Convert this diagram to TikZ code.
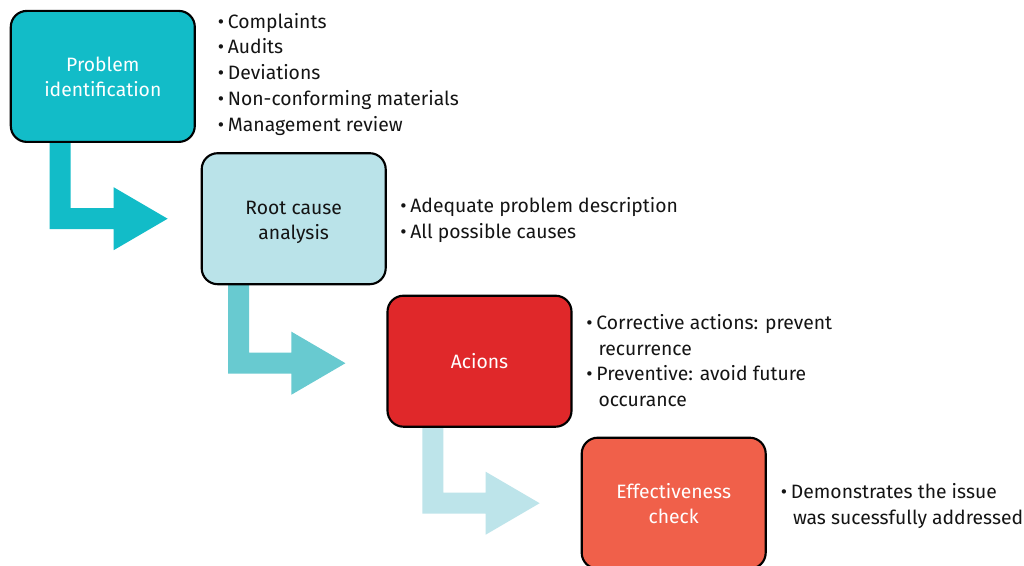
\documentclass[tikz,border=0pt]{standalone}
\usepackage{fontspec}
\setmainfont{Fira Sans}
\usetikzlibrary{calc,backgrounds}
\definecolor{cA}{RGB}{18,188,200}
\definecolor{cB}{RGB}{186,227,233}
\definecolor{cBarrow}{RGB}{104,202,208}
\definecolor{cC}{RGB}{224,40,42}
\definecolor{cCarrow}{RGB}{189,228,234}
\definecolor{cD}{RGB}{240,96,74}
\definecolor{txt}{RGB}{20,20,20}
\newcommand{\flowarrow}[3]{%
  \fill[#3] (#1) -- ($(#1|-#2)+(0,10.5)$) -- ($(#2)+(-54,10.5)$) -- ($(#2)+(-54,31.5)$) -- (#2)
    -- ($(#2)+(-54,-31.5)$) -- ($(#2)+(-54,-10.5)$) -- ($(#1|-#2)+(21,-10.5)$) -- ($(#1)+(21,0)$) -- cycle;}
\newcommand{\bl}{\makebox[7.6pt][l]{•}}
\newcommand{\cont}{\hspace*{9.2pt}}
\begin{document}
\begin{tikzpicture}[x=0.75pt,y=-0.75pt,
  stage/.style={draw=black,line width=1.6pt,rounded corners=12pt,minimum width=138pt,minimum height=98.25pt,
    align=center,inner sep=0pt,font={\fontsize{14.5}{18.75}\selectfont}},
  list/.style={anchor=base west,align=left,inner sep=0pt,text=txt,font={\fontsize{14.5}{19.3}\selectfont}}]
\clip (0,0) rectangle (1024,565);
\node[stage,fill=cA,text=white] (b1) at (102.8,76.4) {Problem\\identification};
\node[stage,fill=cB,label={[align=center,text=txt,inner sep=0pt,yshift=-3pt,font={\fontsize{14.5}{18.75}\selectfont}]center:Root cause\\analysis}] (b2) at (293.7,218.7) {};
\node[stage,fill=cC,text=white] (b3) at (479.5,361.2) {Acions};
\node[stage,fill=cD,text=white] (b4) at (673.7,503.2) {Effectiveness\\check};
\begin{scope}[on background layer]
  \fill[white] (0,0) rectangle (1024,565);
  \coordinate (s1) at ($(b1.south west)+(40,-2)$);
  \coordinate (t1) at ($(b2.west)+(-33,0)$);
  \flowarrow{s1}{t1}{cA}
  \coordinate (s2) at ($(b2.south west)+(27.6,-2)$);
  \coordinate (t2) at ($(b3.west)+(-41,2)$);
  \flowarrow{s2}{t2}{cBarrow}
  \coordinate (s3) at ($(b3.south west)+(36,-2)$);
  \coordinate (t3) at ($(b4.west)+(-41,0)$);
  \flowarrow{s3}{t3}{cCarrow}
\end{scope}
\node[list] (l1) at (217.5,131) {\bl Complaints\\\bl Audits\\\bl Deviations\\\bl Non-conforming materials\\\bl Management review};
\node[list] (l2) at (400,238) {\bl Adequate problem description\\\bl All possible causes};
\node[list] (l3) at (586,406.5) {\bl Corrective actions: prevent\\\cont recurrence\\\bl Preventive: avoid future\\\cont occurance};
\node[list] (l4) at (780.5,524) {\bl Demonstrates the issue\\\cont was sucessfully addressed};
\end{tikzpicture}
\end{document}
